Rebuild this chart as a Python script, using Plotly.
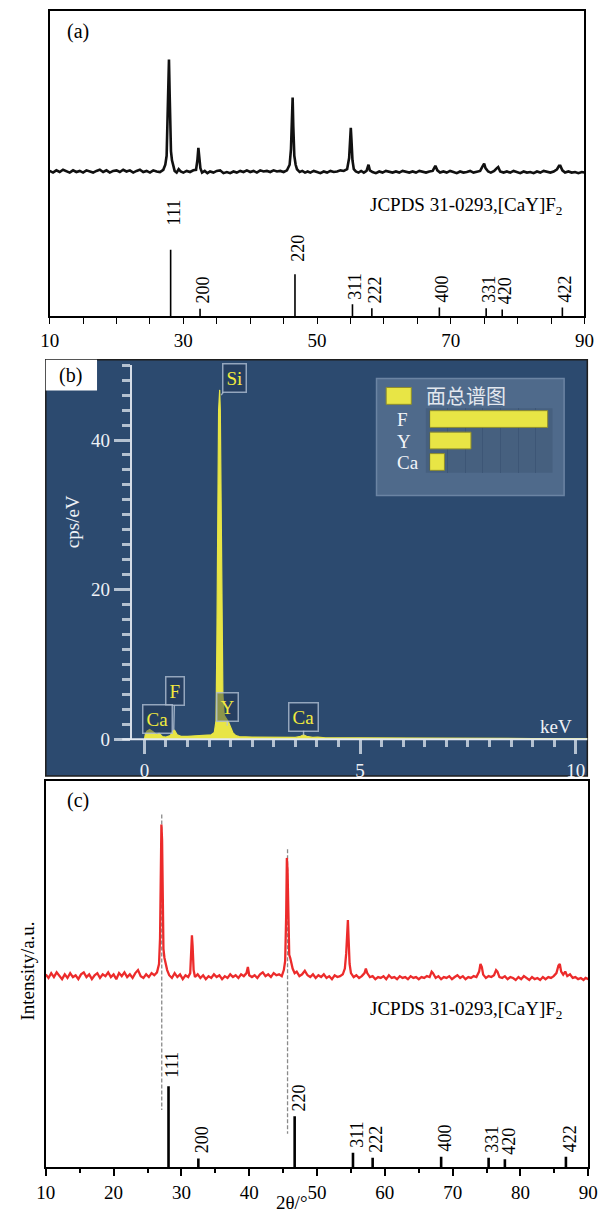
import plotly.graph_objects as go

W, H = 607, 1224
SERIF = "Liberation Serif, Times New Roman, serif"


def fx(p):
    return p / W


def fy(p):
    return 1 - p / H


# ---------------- (a) as-prepared powder: (2θ in °, intensity a.u., background ≈ 0) ----------------
scan_a = [
    (10.0, 0.5), (10.5, -1), (11.0, 1), (11.5, -0.5), (12.0, 1.5), (12.5, 0), (13.0, -1), (13.5, 1), (14.0, -0.5),
    (14.5, 0.5), (15.0, -1), (15.5, 1), (16.0, 0), (16.5, -1), (17.0, 0.5), (17.5, 1.5), (18.0, -0.5), (18.5, 1),
    (19.0, -1), (19.5, 0.5), (20.0, 1), (20.5, -0.5), (21.0, 1.5), (21.5, 0), (22.0, 1), (22.5, -1), (23.0, 0.5),
    (23.5, 1.5), (24.0, -0.5), (24.5, 0.5), (25.0, -1), (25.5, 1), (26.0, 0), (26.5, -0.5), (27.0, 1.5), (27.3, 6),
    (27.5, 14), (27.65, 45), (27.75, 85), (27.85, 100), (27.95, 70), (28.05, 30), (28.15, 18), (28.3, 10), (28.5, 4),
    (28.7, 0.5), (29.0, -1), (29.3, 2), (29.6, 0), (30.0, -1), (30.5, 0.5), (31.0, -0.5), (31.5, 1), (31.9, 1.5),
    (32.1, 10), (32.25, 21), (32.4, 12), (32.55, 3), (32.8, -1), (33.2, 0.5), (33.6, -1.5), (34.0, 0), (34.5, -1),
    (35.0, 0.5), (35.5, 1), (36.0, -1.5), (36.5, -0.5), (37.0, -1.5), (37.5, 0), (38.0, -1), (38.5, 0.5), (39.0, -0.5),
    (39.5, 1), (40.0, -0.5), (40.5, 0.5), (41.0, -1), (41.5, 1), (42.0, 0), (42.5, 0.5), (43.0, -0.5), (43.5, 1),
    (44.0, 0), (44.5, 0.5), (45.0, -0.5), (45.5, 1), (45.9, 6), (46.1, 20), (46.25, 55), (46.35, 66), (46.45, 40),
    (46.6, 14), (46.8, 6), (47.0, 2), (47.4, -0.5), (47.8, 0.5), (48.2, -1), (48.6, 0), (49.0, -1), (49.5, 0.5),
    (50.0, -0.5), (50.5, -1.5), (51.0, 0), (51.5, -1), (52.0, 0.5), (52.5, -0.5), (53.0, 0), (53.5, 1), (54.0, 0.5),
    (54.5, 2), (54.8, 12), (54.95, 32), (55.05, 39), (55.15, 28), (55.3, 10), (55.5, 2), (55.8, 0), (56.2, -1),
    (56.6, 0.5), (57.0, -1), (57.4, 0.5), (57.7, 6), (57.9, 1), (58.3, -0.5), (58.8, -1.5), (59.3, 0), (59.8, -1),
    (60.3, 0.5), (60.8, -0.5), (61.3, -1), (61.8, 0), (62.3, -1), (62.8, 0.5), (63.3, -0.5), (63.8, -1), (64.3, 0),
    (64.8, -1), (65.3, 0.5), (65.8, -0.5), (66.3, -1), (66.8, 0), (67.3, 0.5), (67.7, 5), (68.0, 1), (68.4, -1),
    (68.9, 0), (69.4, -1), (69.9, 0.5), (70.4, -0.5), (70.9, -1.5), (71.4, 0), (71.9, -1), (72.4, -0.5), (72.9, 0.5),
    (73.4, -1), (73.9, 0), (74.4, 0.5), (74.8, 5), (75.0, 7), (75.2, 3), (75.6, 0), (76.0, -1), (76.5, 0.5), (76.9, 3),
    (77.1, 4), (77.4, 0), (77.9, -1), (78.4, 0), (78.9, -1), (79.4, 0.5), (79.9, -0.5), (80.4, -1.5), (80.9, 0),
    (81.4, -1), (81.9, -0.5), (82.4, -1.5), (82.9, 0), (83.4, -1), (83.9, 0.5), (84.4, -0.5), (84.9, -1), (85.4, 0),
    (85.9, 2), (86.2, 5), (86.4, 5), (86.7, 1), (87.1, -1), (87.6, 0), (88.1, -1), (88.6, -0.5), (89.1, -1.5),
    (89.6, -0.5), (90.0, -1),
]

# ---------------- (c) coated sample ----------------
scan_c = [
    (10.0, 1.2), (10.4, -1.2), (10.8, 2), (11.2, -0.6), (11.6, 2.5), (12.0, 0), (12.4, -2), (12.8, 1.2), (13.2, -1.2),
    (13.6, 2), (14.0, -0.6), (14.4, 0.6), (14.8, -2), (15.2, 1.2), (15.6, 2.5), (16.0, -0.6), (16.4, 1.2), (16.8, -2),
    (17.2, 0.6), (17.6, 2), (18.0, -1.2), (18.4, 1.2), (18.8, 0), (19.2, 2.5), (19.6, -0.6), (20.0, 1.2), (20.4, -2),
    (20.8, 2), (21.2, 0), (21.6, 2.5), (22.0, -0.6), (22.4, 1.2), (22.8, -1.2), (23.2, 2), (23.6, 4), (24.0, 0),
    (24.4, -1.2), (24.8, 1.2), (25.2, -0.6), (25.6, 2), (26.0, 0.6), (26.4, 2.5), (26.7, 8), (26.85, 25), (26.95, 70),
    (27.05, 100), (27.15, 90), (27.25, 45), (27.35, 18), (27.5, 12), (27.7, 8), (27.9, 4), (28.2, 0.6), (28.6, -1.2),
    (29.0, 2), (29.4, -0.6), (29.8, 1.2), (30.2, -2), (30.6, 0.6), (31.0, -0.6), (31.3, 2), (31.45, 15), (31.55, 27),
    (31.65, 20), (31.8, 4), (32.0, -0.6), (32.4, 1.2), (32.8, -1.2), (33.2, 0.6), (33.6, -2), (34.0, 0), (34.4, -1.2),
    (34.8, 1.2), (35.2, -0.6), (35.6, 0.6), (36.0, -2), (36.4, 0), (36.8, -1.2), (37.2, 1.2), (37.6, -0.6), (38.0, 0.6),
    (38.4, -1.2), (38.8, 1.2), (39.2, 0), (39.6, 2), (39.8, 6), (40.0, 0.6), (40.4, -0.6), (40.8, 0.6), (41.2, -1.2),
    (41.6, 1.2), (42.0, 2.5), (42.4, 0), (42.8, 1.2), (43.2, -0.6), (43.6, 2), (44.0, 0.6), (44.4, 1.2), (44.8, 0),
    (45.1, 4), (45.3, 10), (45.45, 40), (45.55, 78), (45.65, 70), (45.75, 35), (45.9, 14), (46.05, 12), (46.2, 9),
    (46.4, 5), (46.7, 2), (47.0, 3), (47.4, 0), (47.8, 1.2), (48.2, 3.5), (48.6, 0.6), (49.0, -0.6), (49.4, 1.2),
    (49.8, -1.2), (50.2, 0.6), (50.6, -0.6), (51.0, 1.2), (51.4, -1.2), (51.8, 0), (52.2, -2), (52.6, 0.6), (53.0, -0.6),
    (53.4, 0), (53.8, 1.2), (54.1, 5), (54.3, 15), (54.45, 35), (54.55, 37), (54.65, 25), (54.8, 8), (55.0, 2),
    (55.4, -0.6), (55.8, 0.6), (56.2, -1.2), (56.6, 0), (57.0, 2), (57.2, 5), (57.4, 2), (57.8, -0.6), (58.2, 0),
    (58.6, -2), (59.0, -0.6), (59.4, -1.2), (59.8, 0), (60.2, -2), (60.6, 0.6), (61.0, -1.2), (61.4, -0.6), (61.8, -2),
    (62.2, 0), (62.6, -1.2), (63.0, -0.6), (63.4, -2), (63.8, 0), (64.2, -1.2), (64.6, -0.6), (65.0, -2), (65.4, -0.6),
    (65.8, -1.2), (66.2, 0), (66.6, -0.6), (66.9, 3), (67.1, 2), (67.5, -1.2), (67.9, 0), (68.3, -2), (68.7, -0.6),
    (69.1, -1.2), (69.5, 0), (69.9, -2), (70.3, -0.6), (70.7, 0.6), (71.1, -1.2), (71.5, 0), (71.9, -2), (72.3, -0.6),
    (72.7, -1.2), (73.1, 0), (73.5, -0.6), (73.9, 3), (74.1, 8), (74.3, 6), (74.5, 1), (74.9, -1.2), (75.3, 0),
    (75.7, -0.6), (76.1, 0.6), (76.4, 4), (76.6, 3), (76.9, -0.6), (77.3, -1.2), (77.7, 0), (78.1, -2), (78.5, -0.6),
    (78.9, -1.2), (79.3, -2.5), (79.7, -0.6), (80.1, -2), (80.5, 0), (80.9, -1.2), (81.3, -2.5), (81.7, -0.6),
    (82.1, -2), (82.5, -1.2), (82.9, -2.5), (83.3, -0.6), (83.7, -2), (84.1, -0.6), (84.5, -1.2), (84.9, 0), (85.3, 2),
    (85.6, 7), (85.8, 8), (86.0, 3), (86.3, 1), (86.6, 3), (86.9, 0), (87.3, 1.2), (87.7, -1.2), (88.1, -0.6),
    (88.5, -2), (88.9, -1.2), (89.3, -2.5), (89.6, -1.2), (90.0, -2),
]

# JCPDS 31-0293 [CaY]F2 reference lines
pdf_hkl = ["111", "200", "220", "311", "222", "400", "331", "420", "422"]
pdf_2theta = [28.1, 32.5, 46.7, 55.3, 58.2, 68.3, 75.3, 77.7, 86.7]
pdf_rel_int = [100, 11, 63, 18, 12, 13, 12, 10, 13]

# dashed guides in (c): measured peak → reference line (2θ, top, bottom in scan units)
guide_2theta = [27.1, 45.65]
guide_top = [106.6, 83.7]
guide_bottom = [-88.3, -104.0]

# ---------------- (b) EDS area spectrum: (energy keV, cps/eV) ----------------
eds_spectrum = [
    (0.0, 0.0), (0.02, 0.6), (0.06, 1.1), (0.12, 1.3), (0.2, 1.0), (0.28, 0.6), (0.34, 0.8), (0.42, 0.35),
    (0.5, 0.3), (0.6, 0.5), (0.66, 1.1), (0.7, 1.2), (0.76, 0.6), (0.85, 0.4), (1.0, 0.4), (1.2, 0.45),
    (1.4, 0.5), (1.55, 0.6), (1.62, 0.9), (1.66, 2.5), (1.68, 13), (1.70, 38), (1.72, 44), (1.745, 46.7),
    (1.76, 44), (1.78, 31), (1.80, 17), (1.82, 6), (1.85, 3.2), (1.9, 2.8), (1.95, 2.3), (2.0, 1.6),
    (2.05, 0.9), (2.12, 0.5), (2.2, 0.35), (2.5, 0.3), (3.0, 0.25), (3.5, 0.25), (3.62, 0.4), (3.69, 0.6),
    (3.76, 0.4), (3.9, 0.25), (4.02, 0.3), (4.2, 0.2), (5.0, 0.2), (6.0, 0.15), (7.0, 0.15), (8.0, 0.12),
    (9.0, 0.1), (10.0, 0.1), (10.27, 0.1),
]
eds_peak_names = ["Si", "F", "Ca", "Y", "Ca"]
eds_peak_keV = [1.78, 0.68, 0.34, 1.92, 3.69]
eds_peak_cps = [46.0, 1.2, 0.9, 1.8, 0.5]

# element totals of the area map
map_elements = ["F", "Y", "Ca"]
map_totals = [100, 35, 12.5]

YELLOW = "#e8e545"
RED = "#ec2b2b"

fig = go.Figure()


def stick_xy(pos, inten):
    xs, ys = [], []
    for t, i in zip(pos, inten):
        xs += [t, t, None]
        ys += [0, i, None]
    return xs, ys


# ---- panel (a) ----
sx, sy = stick_xy(pdf_2theta, pdf_rel_int)
fig.add_trace(go.Scatter(x=sx, y=sy, mode="lines", line=dict(color="black", width=1.6),
                         xaxis="x", yaxis="y", hoverinfo="skip"))
fig.add_trace(go.Scatter(x=[p[0] for p in scan_a], y=[p[1] for p in scan_a], mode="lines",
                         line=dict(color="#111111", width=2.6), xaxis="x", yaxis="y2"))

# ---- panel (b) ----
fig.add_trace(go.Scatter(x=[p[0] for p in eds_spectrum], y=[p[1] for p in eds_spectrum], mode="lines",
                         fill="tozeroy", fillcolor=YELLOW, line=dict(color=YELLOW, width=1.2),
                         xaxis="x2", yaxis="y3"))
fig.add_trace(go.Bar(x=map_totals, y=map_elements, orientation="h", width=0.78,
                     marker=dict(color=YELLOW, line=dict(color="#8f8d2c", width=1)),
                     xaxis="x3", yaxis="y4"))

# ---- panel (c) ----
sx, sy = stick_xy(pdf_2theta, pdf_rel_int)
fig.add_trace(go.Scatter(x=sx, y=sy, mode="lines", line=dict(color="black", width=2.6),
                         xaxis="x4", yaxis="y5", hoverinfo="skip"))
gx, gy = [], []
for t, top, bot in zip(guide_2theta, guide_top, guide_bottom):
    gx += [t, t, None]
    gy += [top, bot, None]
fig.add_trace(go.Scatter(x=gx, y=gy, mode="lines", line=dict(color="#8a8a8a", width=1.3, dash="4px,2px"),
                         xaxis="x4", yaxis="y6"))
fig.add_trace(go.Scatter(x=[p[0] for p in scan_c], y=[p[1] for p in scan_c], mode="lines",
                         line=dict(color=RED, width=2.3), xaxis="x4", yaxis="y6"))

tickfont_black = dict(family=SERIF, size=19, color="black")
tickfont_white = dict(family=SERIF, size=19, color="#eef1f6")
EDS_TICK = "rgba(205,214,226,0.85)"

fig.update_layout(
    width=W, height=H, margin=dict(l=0, r=0, t=0, b=0),
    paper_bgcolor="white", plot_bgcolor="rgba(0,0,0,0)", showlegend=False,
    xaxis=dict(domain=[fx(41), fx(594)], range=[10, 90], anchor="y", showline=True, mirror=True,
               linecolor="black", linewidth=1.5, ticks="outside", tick0=10, dtick=20, ticklen=6,
               tickwidth=1.3, tickcolor="black", tickfont=tickfont_black, showgrid=False, zeroline=False,
               minor=dict(dtick=5, tick0=10, ticks="outside", ticklen=6, tickwidth=1.3, tickcolor="black",
                          showgrid=False)),
    yaxis=dict(domain=[fy(319), fy(11)], range=[0, 460], anchor="x", showline=True, mirror=True,
               linecolor="black", linewidth=1.5, ticks="", showticklabels=False, showgrid=False, zeroline=False),
    yaxis2=dict(overlaying="y", anchor="x", range=[-129.2, 143.4], visible=False),
    xaxis2=dict(domain=[fx(126), fx(597)], range=[-0.291, 10.269], anchor="y3", showline=False,
                ticks="outside", tick0=0, dtick=5, ticklen=14, tickwidth=3, tickcolor=EDS_TICK,
                tickfont=tickfont_white, showgrid=False, zeroline=False,
                minor=dict(dtick=0.5, tick0=0, ticks="outside", ticklen=7, tickwidth=3, tickcolor=EDS_TICK,
                           showgrid=False)),
    yaxis3=dict(domain=[fy(746), fy(368)], range=[0, 50.07], anchor="x2", showline=True,
                linecolor="#d6dde7", linewidth=2, ticks="outside", tick0=0, dtick=20, ticklen=16, tickwidth=3,
                tickcolor=EDS_TICK, tickfont=tickfont_white, showgrid=False, zeroline=False,
                minor=dict(dtick=2, tick0=0, ticks="outside", ticklen=8, tickwidth=3, tickcolor=EDS_TICK,
                           showgrid=False)),
    xaxis3=dict(domain=[fx(434), fx(560)], range=[0, 103.3], anchor="y4", showgrid=True,
                gridcolor="#3d5676", gridwidth=1, dtick=15, showticklabels=False, zeroline=False, showline=False),
    yaxis4=dict(domain=[fy(477), fy(412)], anchor="x3", categoryorder="array", categoryarray=map_elements,
                autorange="reversed", showticklabels=False, showgrid=False, zeroline=False, showline=False),
    xaxis4=dict(domain=[fx(37), fx(598)], range=[10, 90], anchor="y5", showline=True, mirror=True,
                linecolor="black", linewidth=1.5, ticks="outside", tick0=10, dtick=10, ticklen=7,
                tickwidth=1.5, tickcolor="black", tickfont=tickfont_black, showgrid=False, zeroline=False,
                minor=dict(dtick=5, tick0=10, ticks="outside", ticklen=4, tickwidth=1.5, tickcolor="black",
                           showgrid=False)),
    yaxis5=dict(domain=[fy(1178), fy(788)], range=[0, 475.6], anchor="x4", showline=True, mirror=True,
                linecolor="black", linewidth=1.5, ticks="", showticklabels=False, showgrid=False, zeroline=False),
    yaxis6=dict(overlaying="y5", anchor="x4", range=[-126.2, 128.8], visible=False),
)

shapes = [
    # EDS screenshot background
    dict(type="rect", xref="paper", yref="paper", x0=fx(37), x1=fx(597), y0=fy(783), y1=fy(363),
         fillcolor="#2c4a6f", line=dict(color="#1e1e1e", width=1.5), layer="below"),
    dict(type="rect", xref="paper", yref="paper", x0=fx(37), x1=fx(90), y0=fy(394), y1=fy(363),
         fillcolor="white", line=dict(width=0), layer="below"),
    # element-total panel
    dict(type="rect", xref="paper", yref="paper", x0=fx(379), x1=fx(573), y0=fy(500), y1=fy(382),
         fillcolor="#4f6a8b", line=dict(color="#6b84a3", width=1.5), layer="below"),
    dict(type="rect", xref="paper", yref="paper", x0=fx(430), x1=fx(561), y0=fy(477), y1=fy(412),
         fillcolor="#46607f", line=dict(width=0), layer="below"),
    dict(type="rect", xref="paper", yref="paper", x0=fx(389), x1=fx(415), y0=fy(408), y1=fy(391),
         fillcolor=YELLOW, line=dict(color="#8f8d2c", width=1)),
    # EDS energy axis line
    dict(type="line", xref="paper", yref="paper", x0=fx(116), x1=fx(597), y0=fy(746), y1=fy(746),
         line=dict(color="#e2e8f0", width=2)),
]
for i in range(len(map_elements)):
    shapes.append(dict(type="line", xref="x3", yref="y4", x0=-1.2, x1=-1.2, y0=i - 0.39, y1=i + 0.39,
                       line=dict(color="#111111", width=2.5)))
fig.update_layout(shapes=shapes)

ann = []


def text(x, y, s, size=19, color="black", angle=0, xanchor="center", family=SERIF):
    ann.append(dict(xref="paper", yref="paper", x=fx(x), y=fy(y), text=s, showarrow=False,
                    textangle=angle, xanchor=xanchor, yanchor="middle",
                    font=dict(family=family, size=size, color=color)))


text(70, 32, "(a)", 20)
text(70, 808, "(c)", 20)
text(63, 379, "(b)", 20)
text(370, 208, "JCPDS 31-0293,[CaY]F<sub>2</sub>", 19, xanchor="left")
text(370, 1019, "JCPDS 31-0293,[CaY]F<sub>2</sub>", 19, xanchor="left")
text(291, 1213, "2θ/°", 19)
text(18, 980, "Intensity/a.u.", 19, angle=-90)
text(64, 526, "cps/eV", 19, color="#eef1f6", angle=-90)
text(565, 733, "keV", 19, color="#eef1f6")
text(428, 399, "面总谱图", 20, color="#e3e8ef", xanchor="left", family="Noto Sans CJK SC")
for name, yy in zip(map_elements, [423, 445, 467]):
    text(398, yy, name, 19, color="#f2f4f8", xanchor="left")

# hkl labels above reference lines
gaps_a = {"111": 22, "220": 11}
for hkl, t, i in zip(pdf_hkl, pdf_2theta, pdf_rel_int):
    for xr, yr, gap, dx in (("x", "y", gaps_a.get(hkl, 3), 3), ("x4", "y5", 6 if hkl == "111" else 3, 4)):
        ann.append(dict(xref=xr, yref=yr, x=t, y=i, text=hkl, showarrow=False, textangle=-90,
                        xanchor="center", yanchor="bottom", yshift=gap, xshift=dx,
                        font=dict(family=SERIF, size=18, color="black")))

# EDS peak call-outs
offsets = {0: (13, -17), 1: (1, -39), 2: (-2, -14), 3: (0, -19), 4: (0, -19)}
for k, (name, e, c) in enumerate(zip(eds_peak_names, eds_peak_keV, eds_peak_cps)):
    axo, ayo = offsets[k]
    ann.append(dict(xref="x2", yref="y3", x=e, y=c, text=name, showarrow=True, arrowhead=0,
                    arrowwidth=1.4, arrowcolor="rgba(185,198,215,0.8)", ax=axo, ay=ayo,
                    bgcolor="rgba(30,50,80,0.45)", bordercolor="rgba(175,190,210,0.8)", borderwidth=1.5,
                    borderpad=3, font=dict(family=SERIF, size=19, color="#f2ea3e")))

fig.update_layout(annotations=ann)
fig.write_html("out.html")
